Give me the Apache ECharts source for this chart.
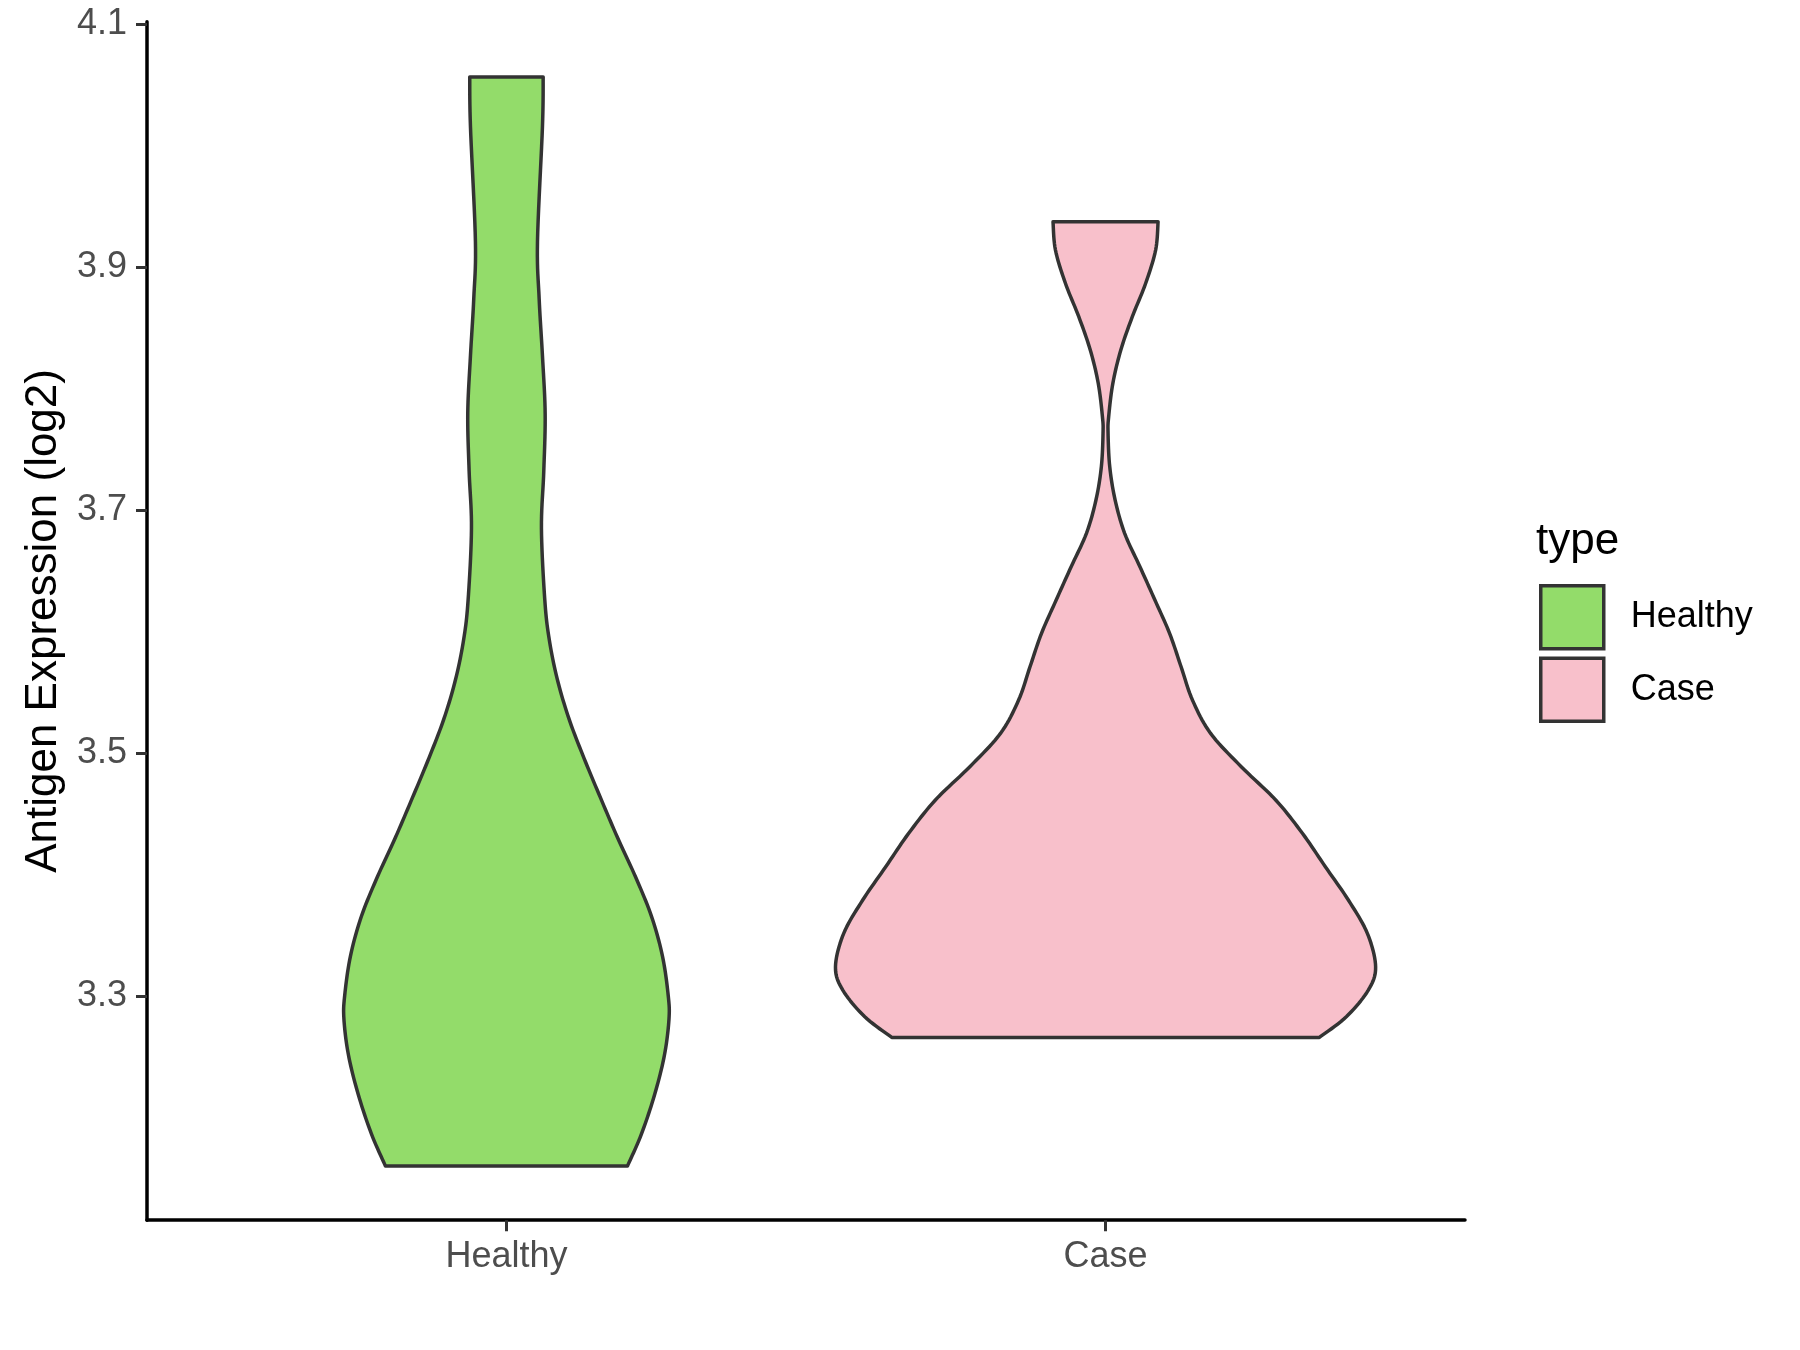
<!DOCTYPE html>
<html><head><meta charset="utf-8">
<script src="https://cdn.jsdelivr.net/npm/echarts@6/dist/echarts.min.js"></script>
<style>html,body{margin:0;padding:0;background:#fff}#chart{width:1800px;height:1350px}</style>
</head><body><div id="chart"></div>
<script>
// ---- data ----
const categories = ['Healthy', 'Case'];
const fillColors = ['#93DC6A', '#F8C0CB'];
const yTicks = [3.3, 3.5, 3.7, 3.9, 4.1];
const yMin = 3.116, yMax = 4.102;

// violin outline: expression value and half-width (in x-axis category units)
const healthyValues = [3.1606, 3.187, 3.2198, 3.2521, 3.2815, 3.3009, 3.3333, 3.366, 3.3985, 3.4312, 3.4636, 3.4962, 3.5286, 3.5612, 3.5941, 3.6263, 3.6851, 3.7323, 3.7796, 3.827, 3.874, 3.9213, 4.0158, 4.0566];
const healthyHalfWidths = [0.202, 0.2254, 0.2476, 0.2638, 0.2713, 0.27, 0.2604, 0.2421, 0.2154, 0.185, 0.1569, 0.1294, 0.1043, 0.0848, 0.0713, 0.064, 0.0584, 0.0623, 0.0646, 0.0601, 0.0546, 0.0518, 0.0601, 0.0613];
const caseValues = [3.2664, 3.2834, 3.3053, 3.3245, 3.352, 3.3794, 3.4068, 3.4343, 3.4617, 3.4891, 3.5165, 3.5439, 3.5713, 3.5988, 3.6262, 3.6536, 3.6811, 3.7085, 3.7359, 3.7634, 3.777, 3.8045, 3.8319, 3.8593, 3.8868, 3.9141, 3.9374];
const caseHalfWidths = [0.3569, 0.4019, 0.4386, 0.4508, 0.437, 0.4053, 0.3669, 0.3286, 0.284, 0.2265, 0.1754, 0.1451, 0.1261, 0.1069, 0.0824, 0.0574, 0.0319, 0.016, 0.007, 0.0042, 0.0052, 0.0122, 0.0255, 0.0447, 0.067, 0.0836, 0.0877];

const violins = [
  { values: healthyValues, widths: healthyHalfWidths },
  { values: caseValues, widths: caseHalfWidths }
];

const FONT = "'Liberation Sans', Arial, sans-serif";

// Catmull-Rom sampling for a smooth outline between measured points
function smoothPts(P, steps) {
  const out = [];
  for (let i = 0; i < P.length - 1; i++) {
    const p0 = P[i - 1] || P[i], p1 = P[i], p2 = P[i + 1], p3 = P[i + 2] || P[i + 1];
    for (let s = 0; s < steps; s++) {
      const t = s / steps, t2 = t * t, t3 = t2 * t;
      const f = (a, b, c, d) => 0.5 * ((2 * b) + (-a + c) * t + (2 * a - 5 * b + 4 * c - d) * t2 + (-a + 3 * b - 3 * c + d) * t3);
      out.push([f(p0[0], p1[0], p2[0], p3[0]), f(p0[1], p1[1], p2[1], p3[1])]);
    }
  }
  out.push(P[P.length - 1]);
  return out;
}

function makeRender(idx) {
  return function (params, api) {
    const v = violins[idx];
    const cx = idx + 1;
    const left = v.values.map((val, i) => api.coord([cx - v.widths[i], val]));
    const right = v.values.map((val, i) => api.coord([cx + v.widths[i], val]));
    const pts = smoothPts(left, 10).concat(smoothPts(right, 10).reverse());
    return {
      type: 'polygon',
      shape: { points: pts },
      style: { fill: fillColors[idx], stroke: '#333333', lineWidth: 3.5, lineJoin: 'round' }
    };
  };
}

const chart = echarts.init(document.getElementById('chart'), null, { renderer: 'canvas' });
chart.setOption({
  backgroundColor: '#ffffff',
  animation: false,
  textStyle: { fontFamily: FONT },
  grid: { left: 147, right: 335, top: 21.7, bottom: 129.8, containLabel: false },
  title: {
    text: 'type', left: 1536, top: 520, padding: 0,
    textStyle: { fontSize: 44, fontWeight: 'normal', color: '#000', fontFamily: FONT }
  },
  legend: {
    orient: 'vertical', left: 1539, top: 584, padding: 0,
    itemWidth: 63, itemHeight: 63, itemGap: 6, icon: 'rect',
    data: categories,
    itemStyle: { borderColor: '#333333', borderWidth: 3.5 },
    textStyle: { fontSize: 36, color: '#000', fontFamily: FONT, padding: [0, 0, 0, 22] }
  },
  xAxis: {
    type: 'value', min: 0.4, max: 2.6,
    splitLine: { show: false },
    axisLine: { show: true, lineStyle: { color: '#000', width: 3.5 } },
    axisTick: { show: true, length: 11, customValues: [1, 2], lineStyle: { color: '#333', width: 3 } },
    axisLabel: {
      customValues: [1, 2], margin: 19, fontSize: 36, color: '#4D4D4D', fontFamily: FONT,
      formatter: v => categories[Math.round(v) - 1] || ''
    }
  },
  yAxis: {
    type: 'value', min: yMin, max: yMax,
    splitLine: { show: false },
    axisLine: { show: true, lineStyle: { color: '#000', width: 3.5 } },
    axisTick: { show: true, length: 11, customValues: yTicks, lineStyle: { color: '#333', width: 3 } },
    axisLabel: {
      customValues: yTicks, margin: 20, fontSize: 36, color: '#4D4D4D', fontFamily: FONT,
      formatter: v => Number(v).toFixed(1)
    },
    name: 'Antigen Expression (log2)', nameLocation: 'middle', nameGap: 81,
    nameTextStyle: { fontSize: 44, color: '#000', fontFamily: FONT }
  },
  series: categories.map((name, i) => ({
    type: 'custom', name: name,
    itemStyle: { color: fillColors[i], borderColor: '#333333', borderWidth: 3.5 },
    renderItem: makeRender(i),
    data: [[i + 1, violins[i].values[0]]],
    silent: true
  }))
});
</script></body></html>
